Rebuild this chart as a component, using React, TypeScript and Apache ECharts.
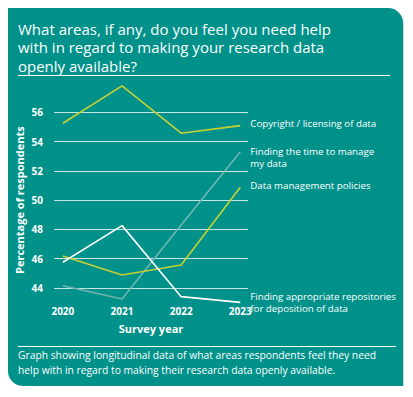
import React, { useEffect, useRef } from "react";
import * as echarts from "echarts";

const years = [2020, 2021, 2022, 2023];
const copyright = [55.25, 57.8, 54.57, 55.09];
const findingTime = [44.16, 43.25, 48.3, 53.31];
const dataPolicies = [46.19, 44.89, 45.57, 50.88];
const repositories = [45.76, 48.26, 43.41, 43.02];
const yTicks = [44, 46, 48, 50, 52, 54, 56];

const seriesNames = [
  "Copyright / licensing of data",
  "Finding the time to manage\nmy data",
  "Data management policies",
  "Finding appropriate repositories\nfor deposition of data",
];

const titleText =
  "What areas, if any, do you feel you need help\nwith in regard to making your research data\nopenly available?";
const captionText =
  "Graph showing longitudinal data of what areas respondents feel they need\nhelp with in regard to making their research data openly available.";

const FONT = "'Open Sans', 'Noto Sans', sans-serif";
const BG = "#00918a";
const YELLOW = "#c8d133";
const GREY = "#72b5ae";
const WHITE = "#ffffff";

export default function App() {
  const ref = useRef<HTMLDivElement>(null);
  useEffect(() => {
    if (!ref.current) return;
    const chart = echarts.init(ref.current, undefined, { renderer: "svg" });
    const mk = (name: string, vals: number[], color: string, offY: number) => ({
      type: "line",
      name,
      data: years.map((y, i) => [y, vals[i]]),
      showSymbol: false,
      symbol: "none",
      lineStyle: { color, width: 1.6 },
      itemStyle: { color },
      endLabel: {
        show: true,
        formatter: () => name,
        color: WHITE,
        fontFamily: FONT,
        fontSize: 9.7,
        lineHeight: 11.7,
        distance: 10,
        offset: [0, offY],
        align: "left",
      },
      z: 3,
    });
    const splitColors = ["transparent"]
      .concat(yTicks.map(() => "#c4e6e2"))
      .concat(["transparent"]);
    chart.setOption({
      animation: false,
      backgroundColor: "transparent",
      textStyle: { fontFamily: FONT },
      title: {
        text: titleText,
        left: 10,
        top: 11.5,
        padding: 0,
        textStyle: {
          color: WHITE,
          fontFamily: FONT,
          fontWeight: "normal",
          fontSize: 15,
          lineHeight: 18.5,
        },
      },
      graphic: [
        {
          type: "line",
          shape: { x1: 10, y1: 67.5, x2: 382, y2: 67.5 },
          style: { stroke: WHITE, lineWidth: 1 },
        },
        {
          type: "line",
          shape: { x1: 10, y1: 338.5, x2: 388, y2: 338.5 },
          style: { stroke: WHITE, lineWidth: 1 },
        },
        {
          type: "text",
          left: 10,
          top: 340,
          style: {
            text: captionText,
            fill: WHITE,
            font: `10.3px ${FONT}`,
            lineHeight: 14.5,
          },
        },
      ],
      grid: { left: 46, right: 155, top: 75, bottom: 68.7 },
      xAxis: {
        type: "value",
        min: 2019.85,
        max: 2023.13,
        axisLine: { show: false },
        axisTick: { show: false },
        splitLine: { show: false },
        axisLabel: {
          customValues: years,
          formatter: (v: number) => String(v),
          color: WHITE,
          fontSize: 10,
          fontWeight: "bold",
          fontFamily: FONT,
          margin: -11,
        },
        name: "Survey year",
        nameLocation: "middle",
        nameGap: 4,
        nameTextStyle: {
          color: WHITE,
          fontSize: 11,
          fontWeight: "bold",
          fontFamily: FONT,
        },
      },
      yAxis: {
        type: "value",
        min: 42,
        max: 58,
        interval: 2,
        axisLine: { show: false },
        axisTick: { show: false },
        axisLabel: {
          color: WHITE,
          fontSize: 10,
          fontWeight: "bold",
          fontFamily: FONT,
          margin: 11,
          formatter: (v: number) => (yTicks.indexOf(v) >= 0 ? String(v) : ""),
        },
        splitLine: { lineStyle: { color: splitColors, width: 1 } },
        name: "Percentage of respondents",
        nameLocation: "middle",
        nameGap: 29,
        nameTextStyle: {
          color: WHITE,
          fontSize: 11,
          fontWeight: "bold",
          fontFamily: FONT,
        },
      },
      series: [
        mk(seriesNames[0], copyright, YELLOW, -2),
        mk(seriesNames[1], findingTime, GREY, 6),
        mk(seriesNames[2], dataPolicies, YELLOW, -1.5),
        mk(seriesNames[3], repositories, WHITE, 0),
      ],
    });
    return () => chart.dispose();
  }, []);
  return (
    <div
      ref={ref}
      style={{
        width: 395,
        height: 378,
        background: BG,
        borderRadius: "0 15px 0 15px",
        boxShadow: "1px 1px 1px rgba(0,120,110,0.25)",
      }}
    />
  );
}
